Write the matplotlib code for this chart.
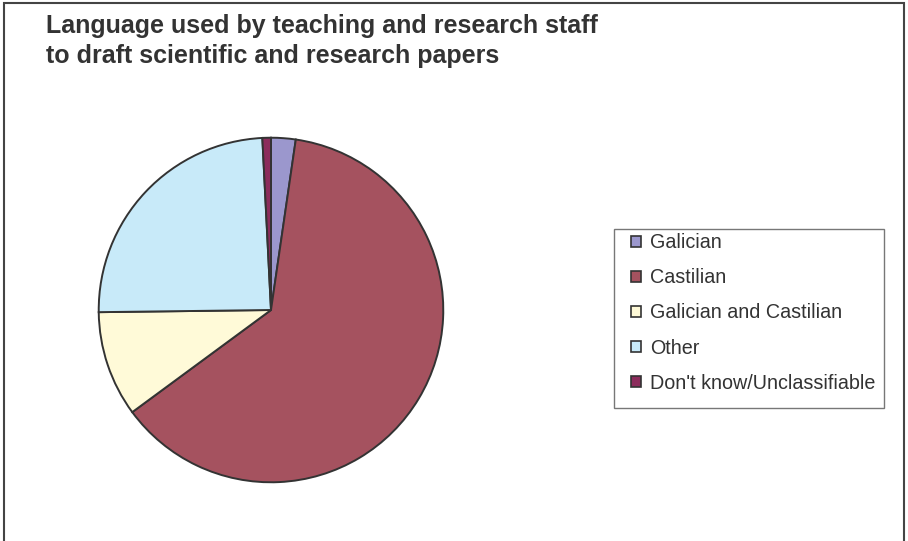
import matplotlib
matplotlib.use('Agg')
from matplotlib import pyplot as plt
from matplotlib.patches import Rectangle, Patch

plt.rcParams['font.family'] = ['Liberation Sans', 'DejaVu Sans']

labels = ['Galician', 'Castilian', 'Galician and Castilian', 'Other', "Don't know/Unclassifiable"]
shares = [2.3, 62.6, 9.9, 24.4, 0.8]
colors = ['#9b97cd', '#a5525f', '#fffad8', '#c8eaf9', '#8c2c5c']
title = 'Language used by teaching and research staff\nto draft scientific and research papers'

W, H = 908, 541
fig = plt.figure(figsize=(W / 100, H / 100), dpi=100)

# outer frame
fig.patches.append(Rectangle((4 / W, -0.01), (W - 8) / W, 1 - 3 / H + 0.01, transform=fig.transFigure,
                             fill=False, edgecolor='#444444', linewidth=1.5))

fig.text(46 / W, 1 - 14 / H, title, ha='left', va='top', fontsize=18, fontweight='bold',
         color='#333333', linespacing=1.34)

ax = fig.add_axes([97 / W, 1 - 484 / H, 348 / W, 348 / H])
ax.pie(shares, colors=colors, startangle=90, counterclock=False, radius=1,
       wedgeprops=dict(edgecolor='#333333', linewidth=1.4))
ax.set_xlim(-1.01, 1.01)
ax.set_ylim(-1.01, 1.01)
ax.set_aspect('auto')
ax.axis('off')

# legend box drawn separately so the padding can differ per side
fig.patches.append(Rectangle((614 / W, 1 - 408 / H), 270 / W, 179 / H, transform=fig.transFigure,
                             fill=False, edgecolor='#777777', linewidth=1.0))
handles = [Patch(facecolor=c, edgecolor='#333333', linewidth=1.2) for c in colors]
leg = fig.legend(handles, labels, loc='center left', bbox_to_anchor=(631 / W, 1 - 313 / H),
                 fontsize=14.2, frameon=False,
                 handlelength=0.5, handleheight=0.5, handletextpad=0.45,
                 labelspacing=0.82, borderpad=0, borderaxespad=0)
for t in leg.get_texts():
    t.set_color('#333333')

plt.savefig('out.png', dpi=100)
